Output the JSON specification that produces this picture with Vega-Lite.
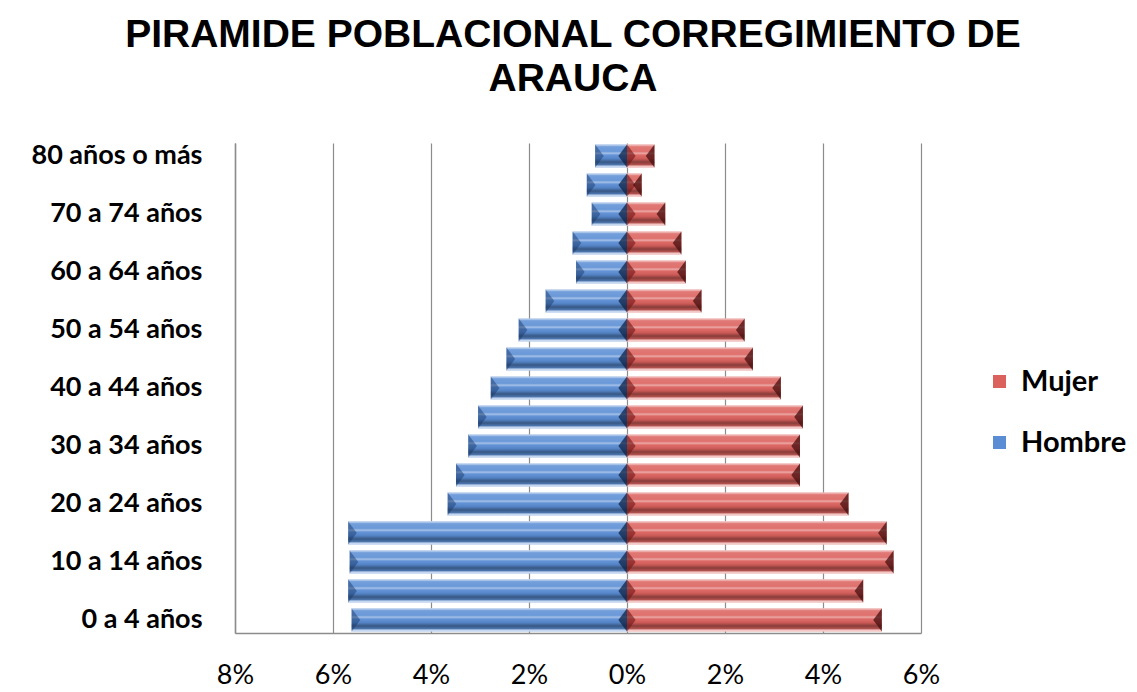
{
  "$schema": "https://vega.github.io/schema/vega-lite/v6.json",
  "autosize": {"type": "none"},
  "width": 686,
  "height": 490,
  "padding": {"top": 143, "left": 235, "right": 216, "bottom": 59},
  "background": "white",
  "title": {
    "text": ["PIRAMIDE POBLACIONAL  CORREGIMIENTO DE", "ARAUCA"],
    "font": "Liberation Sans",
    "fontSize": 39,
    "fontWeight": "bold",
    "color": "#000000",
    "anchor": "middle",
    "frame": "group",
    "lineHeight": 44,
    "offset": 43,
    "dx": -5
  },
  "data": {
    "values": [
      {"edad": "0 a 4 años", "sexo": "Hombre", "pct": -5.62},
      {"edad": "0 a 4 años", "sexo": "Mujer", "pct": 5.20},
      {"edad": "5 a 9 años", "sexo": "Hombre", "pct": -5.69},
      {"edad": "5 a 9 años", "sexo": "Mujer", "pct": 4.82},
      {"edad": "10 a 14 años", "sexo": "Hombre", "pct": -5.66},
      {"edad": "10 a 14 años", "sexo": "Mujer", "pct": 5.44},
      {"edad": "15 a 19 años", "sexo": "Hombre", "pct": -5.69},
      {"edad": "15 a 19 años", "sexo": "Mujer", "pct": 5.30},
      {"edad": "20 a 24 años", "sexo": "Hombre", "pct": -3.66},
      {"edad": "20 a 24 años", "sexo": "Mujer", "pct": 4.52},
      {"edad": "25 a 29 años", "sexo": "Hombre", "pct": -3.49},
      {"edad": "25 a 29 años", "sexo": "Mujer", "pct": 3.53},
      {"edad": "30 a 34 años", "sexo": "Hombre", "pct": -3.24},
      {"edad": "30 a 34 años", "sexo": "Mujer", "pct": 3.53},
      {"edad": "35 a 39 años", "sexo": "Hombre", "pct": -3.04},
      {"edad": "35 a 39 años", "sexo": "Mujer", "pct": 3.59},
      {"edad": "40 a 44 años", "sexo": "Hombre", "pct": -2.78},
      {"edad": "40 a 44 años", "sexo": "Mujer", "pct": 3.14},
      {"edad": "45 a 49 años", "sexo": "Hombre", "pct": -2.46},
      {"edad": "45 a 49 años", "sexo": "Mujer", "pct": 2.57},
      {"edad": "50 a 54 años", "sexo": "Hombre", "pct": -2.21},
      {"edad": "50 a 54 años", "sexo": "Mujer", "pct": 2.40},
      {"edad": "55 a 59 años", "sexo": "Hombre", "pct": -1.66},
      {"edad": "55 a 59 años", "sexo": "Mujer", "pct": 1.52},
      {"edad": "60 a 64 años", "sexo": "Hombre", "pct": -1.04},
      {"edad": "60 a 64 años", "sexo": "Mujer", "pct": 1.20},
      {"edad": "65 a 69 años", "sexo": "Hombre", "pct": -1.11},
      {"edad": "65 a 69 años", "sexo": "Mujer", "pct": 1.11},
      {"edad": "70 a 74 años", "sexo": "Hombre", "pct": -0.72},
      {"edad": "70 a 74 años", "sexo": "Mujer", "pct": 0.78},
      {"edad": "75 a 79 años", "sexo": "Hombre", "pct": -0.82},
      {"edad": "75 a 79 años", "sexo": "Mujer", "pct": 0.30},
      {"edad": "80 años o más", "sexo": "Hombre", "pct": -0.65},
      {"edad": "80 años o más", "sexo": "Mujer", "pct": 0.56}
    ]
  },
  "encoding": {
    "y": {
      "field": "edad",
      "type": "nominal",
      "sort": ["80 años o más", "75 a 79 años", "70 a 74 años", "65 a 69 años", "60 a 64 años", "55 a 59 años", "50 a 54 años", "45 a 49 años", "40 a 44 años", "35 a 39 años", "30 a 34 años", "25 a 29 años", "20 a 24 años", "15 a 19 años", "10 a 14 años", "5 a 9 años", "0 a 4 años"],
      "scale": {"paddingInner": 0.2, "paddingOuter": 0.05},
      "axis": {
        "title": null,
        "values": ["80 años o más", "70 a 74 años", "60 a 64 años", "50 a 54 años", "40 a 44 años", "30 a 34 años", "20 a 24 años", "10 a 14 años", "0 a 4 años"],
        "ticks": false,
        "domainColor": "#8c8c8c",
        "domainWidth": 1.5,
        "labelFont": "Lato",
        "labelFontSize": 27,
        "labelFontWeight": "bold",
        "labelColor": "#000000",
        "labelPadding": 33,
        "labelLimit": 400,
        "grid": false
      }
    },
    "x": {
      "field": "pct",
      "type": "quantitative",
      "scale": {"domain": [-8, 6], "nice": false, "zero": false},
      "axis": {
        "title": null,
        "values": [-8, -6, -4, -2, 0, 2, 4, 6],
        "labelExpr": "abs(datum.value) + '%'",
        "ticks": false,
        "domainColor": "#8c8c8c",
        "domainWidth": 1.5,
        "grid": true,
        "gridColor": "#8c8c8c",
        "gridWidth": 1.2,
        "labelFont": "Lato",
        "labelFontSize": 27,
        "labelColor": "#000000",
        "labelPadding": 29,
        "labelFlush": false
      }
    }
  },
  "layer": [
    {
      "mark": {"type": "bar"},
      "encoding": {
        "color": {
          "field": "sexo",
          "type": "nominal",
          "scale": {"domain": ["Mujer", "Hombre"], "range": ["#DB615D", "#5A8DD4"]},
          "legend": {
            "title": null,
            "orient": "none",
            "legendX": 750,
            "legendY": 224,
            "symbolType": "square",
            "symbolSize": 170,
            "symbolStrokeWidth": 0,
            "labelFont": "Lato",
            "labelFontSize": 29,
            "labelFontWeight": "bold",
            "labelColor": "#000000",
            "labelOffset": 7,
            "rowPadding": 31
          }
        }
      }
    },
    {
      "mark": {
        "type": "bar",
        "fill": {
          "gradient": "linear",
          "x1": 0, "y1": 0, "x2": 0, "y2": 1,
          "stops": [
            {"offset": 0, "color": "rgba(255,255,255,0.75)"},
            {"offset": 0.1, "color": "rgba(255,255,255,0.15)"},
            {"offset": 0.3, "color": "rgba(255,255,255,0.1)"},
            {"offset": 0.38, "color": "rgba(255,255,255,0.45)"},
            {"offset": 0.46, "color": "rgba(255,255,255,0.05)"},
            {"offset": 0.62, "color": "rgba(0,0,0,0.08)"},
            {"offset": 0.76, "color": "rgba(0,0,0,0.38)"},
            {"offset": 0.86, "color": "rgba(0,0,0,0.2)"},
            {"offset": 0.92, "color": "rgba(255,255,255,0.5)"},
            {"offset": 1, "color": "rgba(255,255,255,0.85)"}
          ]
        }
      },
      "encoding": {}
    },
    {
      "transform": [{"filter": "datum.sexo == 'Hombre'"}],
      "mark": {"type": "point", "shape": "M0,-1L0.75,0L0,1Z", "filled": true, "size": 530, "opacity": 1, "color": "rgba(20,50,100,0.45)", "strokeWidth": 0},
      "encoding": {}
    },
    {
      "transform": [{"filter": "datum.sexo == 'Hombre'"}],
      "mark": {"type": "point", "shape": "M0,-1L-0.75,0L0,1Z", "filled": true, "size": 530, "opacity": 1, "color": "rgba(15,35,70,0.75)", "strokeWidth": 0},
      "encoding": {"x": {"datum": 0}}
    },
    {
      "transform": [{"filter": "datum.sexo == 'Mujer'"}],
      "mark": {"type": "point", "shape": "M0,-1L0.75,0L0,1Z", "filled": true, "size": 530, "opacity": 1, "color": "rgba(110,20,20,0.6)", "strokeWidth": 0},
      "encoding": {"x": {"datum": 0}}
    },
    {
      "transform": [{"filter": "datum.sexo == 'Mujer'"}],
      "mark": {"type": "point", "shape": "M0,-1L-0.75,0L0,1Z", "filled": true, "size": 530, "opacity": 1, "color": "rgba(70,15,15,0.75)", "strokeWidth": 0},
      "encoding": {}
    }
  ],
  "config": {
    "view": {"stroke": null}
  }
}
